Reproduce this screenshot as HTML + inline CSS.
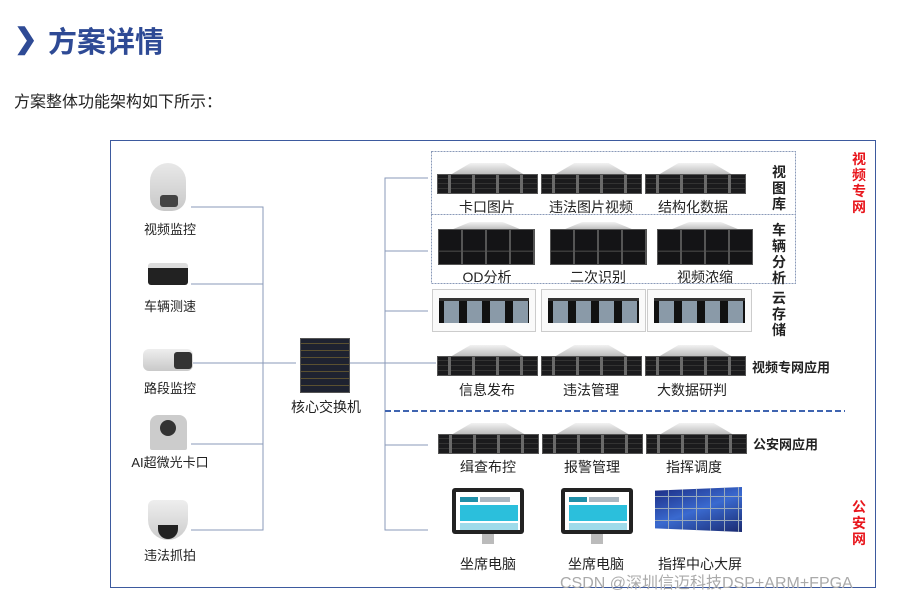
<!DOCTYPE html>
<html><head><meta charset="utf-8"><style>
*{margin:0;padding:0;box-sizing:border-box}
body{width:912px;height:598px;background:#fff;position:relative;overflow:hidden;font-family:"Liberation Sans","Noto Sans CJK SC",sans-serif;color:#222}
.a{position:absolute}
.t{position:absolute;font-size:13px;white-space:nowrap;text-align:center}
.srv{position:absolute;height:31px}
.srv .top{position:absolute;left:8px;right:8px;top:0;height:12px;background:linear-gradient(#f2f2f2,#b8b8b8);clip-path:polygon(6% 100%,30% 0,70% 0,94% 100%)}
.srv .fr{position:absolute;left:0;right:0;top:11px;bottom:0;background:#1b1b1d;border:1px solid #555;background-image:repeating-linear-gradient(90deg,transparent 0 10px,#6a6a6a 10px 13px,transparent 13px 24px),repeating-linear-gradient(0deg,#1b1b1d 0 4px,#333 4px 5px)}
.big .top{height:8px}
.big .fr{top:7px;background:#141416;background-image:repeating-linear-gradient(90deg,transparent 0 22px,#555 22px 24px),linear-gradient(transparent 60%,#3a3a3a 60% 64%,transparent 64%)}
.cs{position:absolute;border:1px solid #ccc;background:#fafafa}
.cs div{position:absolute;left:6px;right:6px;top:8px;bottom:8px;background:#111;background-image:repeating-linear-gradient(90deg,transparent 0 5px,#8a9aa8 5px 20px,transparent 20px 23px),repeating-linear-gradient(0deg,#111 0 3px,transparent 3px 8px);border-top:3px solid #333}
.v{position:absolute;font-size:14px;font-weight:bold;line-height:16px;width:16px;text-align:center}
.mon{position:absolute;width:72px;height:46px;background:#222;border-radius:3px;padding:4px}
.mon div{width:100%;height:100%;background:#fff;background-image:linear-gradient(#1f8fa8,#1f8fa8),linear-gradient(#a9b6c0,#a9b6c0),linear-gradient(#2bbfdc,#2bbfdc),linear-gradient(#9fdbea,#9fdbea);background-size:18px 5px,30px 5px,58px 16px,58px 8px;background-position:4px 5px,24px 5px,4px 13px,4px 31px;background-repeat:no-repeat}
</style></head><body>
<div class="a" style="left:14px;top:22px;font-size:28px;font-weight:bold;color:#2e4a95">❯</div>
<div class="a" style="left:48px;top:19px;font-size:29px;font-weight:bold;color:#2e4a95">方案详情</div>
<div class="a" style="left:14px;top:88px;font-size:16px;color:#222">方案整体功能架构如下所示：</div>
<div class="a" style="left:110px;top:140px;width:766px;height:448px;border:1px solid #3d5a9e"></div>
<svg class="a" style="left:0;top:0" width="912" height="598">
<g stroke="#8a9ab8" stroke-width="1" fill="none">
<path d="M191 207H263V530H191M191 284H263M191 363H296M191 444H263"/>
<path d="M428 178H385V530H428M385 251H428M385 311H428M385 445H428M350 363H436"/>
<rect x="431.5" y="151.5" width="364" height="63" stroke-dasharray="2,1"/>
<rect x="431.5" y="214.5" width="364" height="69" stroke-dasharray="2,1"/>
</g>
<path d="M385 411H845" stroke="#3f64b0" stroke-width="2" stroke-dasharray="6,3"/>
</svg>
<div class="a" style="left:150px;top:163px;width:36px;height:48px;background:linear-gradient(#e8e8e8,#c8c8c8);border-radius:18px 18px 14px 14px"></div>
<div class="a" style="left:160px;top:195px;width:18px;height:12px;background:#444;border-radius:3px"></div>
<div class="t" style="left:135px;top:219px;width:70px">视频监控</div>
<div class="a" style="left:148px;top:263px;width:40px;height:22px;background:#222;border-top:5px solid #ddd;border-radius:3px"></div>
<div class="t" style="left:135px;top:296px;width:70px">车辆测速</div>
<div class="a" style="left:143px;top:349px;width:50px;height:22px;background:linear-gradient(#eee,#c9c9c9);border-radius:6px"></div>
<div class="a" style="left:174px;top:352px;width:18px;height:17px;background:#333;border-radius:3px"></div>
<div class="t" style="left:135px;top:378px;width:70px">路段监控</div>
<div class="a" style="left:150px;top:415px;width:37px;height:35px;background:#ccc;border-radius:8px 8px 2px 2px"></div>
<div class="a" style="left:160px;top:420px;width:16px;height:16px;background:#333;border-radius:50%"></div>
<div class="t" style="left:125px;top:452px;width:90px">AI超微光卡口</div>
<div class="a" style="left:148px;top:500px;width:40px;height:40px;background:linear-gradient(#eee,#ccc);border-radius:6px 6px 20px 20px"></div>
<div class="a" style="left:158px;top:525px;width:20px;height:14px;background:#222;border-radius:0 0 10px 10px"></div>
<div class="t" style="left:135px;top:545px;width:70px">违法抓拍</div>
<div class="a" style="left:300px;top:338px;width:50px;height:55px;background:#1e2230;border:1px solid #555;background-image:repeating-linear-gradient(0deg,transparent 0 6px,#5a5030 6px 7px)"></div>
<div class="t" style="left:286px;top:397px;width:80px;font-size:14px">核心交换机</div>
<div class="srv" style="left:437px;top:163px;width:101px"><div class="top"></div><div class="fr"></div></div>
<div class="srv" style="left:541px;top:163px;width:101px"><div class="top"></div><div class="fr"></div></div>
<div class="srv" style="left:645px;top:163px;width:101px"><div class="top"></div><div class="fr"></div></div>
<div class="t" style="left:447px;top:197px;width:80px;font-size:14px">卡口图片</div>
<div class="t" style="left:541px;top:197px;width:100px;font-size:14px">违法图片视频</div>
<div class="t" style="left:648px;top:197px;width:90px;font-size:14px">结构化数据</div>
<div class="v" style="left:771px;top:164px">视图库</div>
<div class="srv big" style="left:438px;top:222px;width:97px;height:43px"><div class="top"></div><div class="fr"></div></div>
<div class="srv big" style="left:550px;top:222px;width:97px;height:43px"><div class="top"></div><div class="fr"></div></div>
<div class="srv big" style="left:657px;top:222px;width:96px;height:43px"><div class="top"></div><div class="fr"></div></div>
<div class="t" style="left:447px;top:267px;width:80px;font-size:14px">OD分析</div>
<div class="t" style="left:558px;top:267px;width:80px;font-size:14px">二次识别</div>
<div class="t" style="left:665px;top:267px;width:80px;font-size:14px">视频浓缩</div>
<div class="v" style="left:771px;top:222px">车辆分析</div>
<div class="cs" style="left:432px;top:289px;width:104px;height:43px"><div></div></div>
<div class="cs" style="left:541px;top:289px;width:105px;height:43px"><div></div></div>
<div class="cs" style="left:647px;top:289px;width:105px;height:43px"><div></div></div>
<div class="v" style="left:771px;top:290px">云存储</div>
<div class="srv" style="left:437px;top:345px;width:101px"><div class="top"></div><div class="fr"></div></div>
<div class="srv" style="left:541px;top:345px;width:101px"><div class="top"></div><div class="fr"></div></div>
<div class="srv" style="left:645px;top:345px;width:101px"><div class="top"></div><div class="fr"></div></div>
<div class="t" style="left:447px;top:380px;width:80px;font-size:14px">信息发布</div>
<div class="t" style="left:551px;top:380px;width:80px;font-size:14px">违法管理</div>
<div class="t" style="left:652px;top:380px;width:80px;font-size:14px">大数据研判</div>
<div class="a" style="left:752px;top:357px;font-size:13px;font-weight:bold">视频专网应用</div>
<div class="srv" style="left:438px;top:423px;width:101px"><div class="top"></div><div class="fr"></div></div>
<div class="srv" style="left:542px;top:423px;width:101px"><div class="top"></div><div class="fr"></div></div>
<div class="srv" style="left:646px;top:423px;width:101px"><div class="top"></div><div class="fr"></div></div>
<div class="t" style="left:448px;top:457px;width:80px;font-size:14px">缉查布控</div>
<div class="t" style="left:552px;top:457px;width:80px;font-size:14px">报警管理</div>
<div class="t" style="left:654px;top:457px;width:80px;font-size:14px">指挥调度</div>
<div class="a" style="left:753px;top:434px;font-size:13px;font-weight:bold">公安网应用</div>
<div class="mon" style="left:452px;top:488px"><div></div></div>
<div class="a" style="left:482px;top:534px;width:12px;height:10px;background:#bbb"></div>
<div class="mon" style="left:561px;top:488px"><div></div></div>
<div class="a" style="left:591px;top:534px;width:12px;height:10px;background:#bbb"></div>
<div class="a" style="left:655px;top:487px;width:87px;height:45px;clip-path:polygon(0 8%,100% 0,100% 100%,0 92%);background-image:repeating-linear-gradient(90deg,transparent 0 13px,#9ab 13px 14px),repeating-linear-gradient(0deg,transparent 0 11px,#9ab 11px 12px),linear-gradient(160deg,#1a2a80,#3a6ad0 50%,#1a2a70)"></div>
<div class="t" style="left:448px;top:554px;width:80px;font-size:14px">坐席电脑</div>
<div class="t" style="left:556px;top:554px;width:80px;font-size:14px">坐席电脑</div>
<div class="t" style="left:650px;top:554px;width:100px;font-size:14px">指挥中心大屏</div>
<div class="v" style="left:851px;top:151px;color:#e8161c">视频专网</div>
<div class="v" style="left:851px;top:499px;color:#e8161c">公安网</div>
<div class="a" style="left:560px;top:569px;font-size:16px;color:#aaa">CSDN @深圳信迈科技DSP+ARM+FPGA</div>
</body></html>
